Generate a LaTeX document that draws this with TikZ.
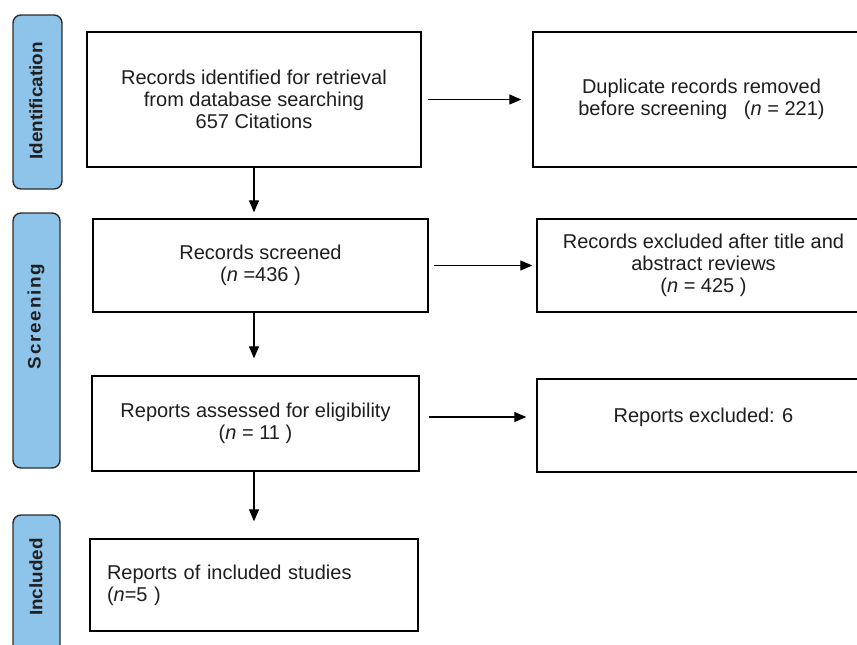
\documentclass[tikz,border=0pt]{standalone}
\usepackage{fontspec}
\setmainfont{Liberation Sans}
\newfontfamily\pillfont{Liberation Sans}[FakeStretch=1.05]
\newfontfamily\pillspaced{Liberation Sans}[FakeStretch=1.05,LetterSpace=10]
\usetikzlibrary{arrows.meta}
\definecolor{pillblue}{RGB}{143,196,234}
\definecolor{pillline}{RGB}{45,45,45}
\definecolor{txt}{RGB}{30,30,30}
\tikzset{
  box/.style={draw=black, line width=1.4pt, fill=white, rectangle, inner sep=0pt,
    align=center, text=txt, font=\fontsize{20}{22}\selectfont},
  pill/.style={draw=pillline, line width=1.4pt, fill=pillblue, rounded corners=8pt,
    rectangle, inner sep=0pt},
  pilltext/.style={rotate=90, text=black!88, font=\pillfont\fontsize{18}{20}\selectfont\bfseries},
  boxtext/.style={text=txt, font=\fontsize{20}{22}\selectfont, inner sep=0pt},
  arr/.style={draw=black, line width=1.3pt, -{Triangle[length=12pt,width=10pt]}}
}
\begin{document}
\begin{tikzpicture}[x=1pt,y=-1pt]
\clip (0,0) rectangle (857,645);
\fill[white] (0,0) rectangle (857,645);

% phase pills
\node[pill, minimum width=49pt, minimum height=174pt] (p1) at (37.5,102) {};
\node[pilltext] (p1t) at (36,101) {Identification};
\node[pill, minimum width=47pt, minimum height=255pt] (p2) at (36.5,340.5) {};
\node[pilltext] (p2t) at (36,316.5) {\pillspaced\bfseries Screening};
\node[pill, minimum width=47pt, minimum height=150pt] (p3) at (36.5,590) {};
\node[pilltext] (p3t) at (36,577) {Included};

% boxes
\node[box, minimum width=334pt, minimum height=135pt] (b1) at (254,99.5)
  {Records identified for retrieval\\from database searching\\657 Citations};
\node[box, minimum width=337pt, minimum height=135pt] (b2) at (701.5,99.5)
  {Duplicate records removed\\before screening \ \ (\textit{n} = 221)};
\node[box, minimum width=335pt, minimum height=93pt] (b3) at (260.5,265.5)
  {Records screened\\(\textit{n} =436 )};
\node[box, minimum width=333pt, minimum height=93pt] (b4) at (703.5,265.5)
  {Records excluded after title and\\abstract reviews\\(\textit{n} = 425 )};
\node[box, minimum width=327pt, minimum height=95pt] (b5) at (255.5,423.5)
  {Reports assessed for eligibility\\(\textit{n} = 11 )};
\node[box, minimum width=333pt, minimum height=93pt] (b6) at (703.5,425.5) {};
\node[boxtext] (b6t) at ([yshift=8.5pt]b6.center) {Reports excluded: 6};
\node[box, align=left, text width=294pt, inner xsep=17pt, minimum height=92pt] (b7) at (254,585)
  {Reports of included studies\\(\textit{n}=5 )};

% vertical arrows
\draw[arr, shorten >=6pt] (b1.south) -- (b1.south |- b3.north);
\draw[arr, shorten >=17pt] (b3.south -| b1.south) -- (b1.south |- b5.north);
\draw[arr, shorten >=17pt] (b5.south -| b1.south) -- (b1.south |- b7.north);

% horizontal arrows
\draw[arr, shorten <=6pt, shorten >=11pt] (b1.east) -- (b2.west);
\draw[arr, shorten <=5pt, shorten >=4pt] (b3.east) -- (b4.west);
\draw[arr, shorten <=9pt, shorten >=10pt] ([yshift=6.5pt]b5.east) -- ([yshift=6.5pt]b5.east -| b6.west);
\end{tikzpicture}
\end{document}
